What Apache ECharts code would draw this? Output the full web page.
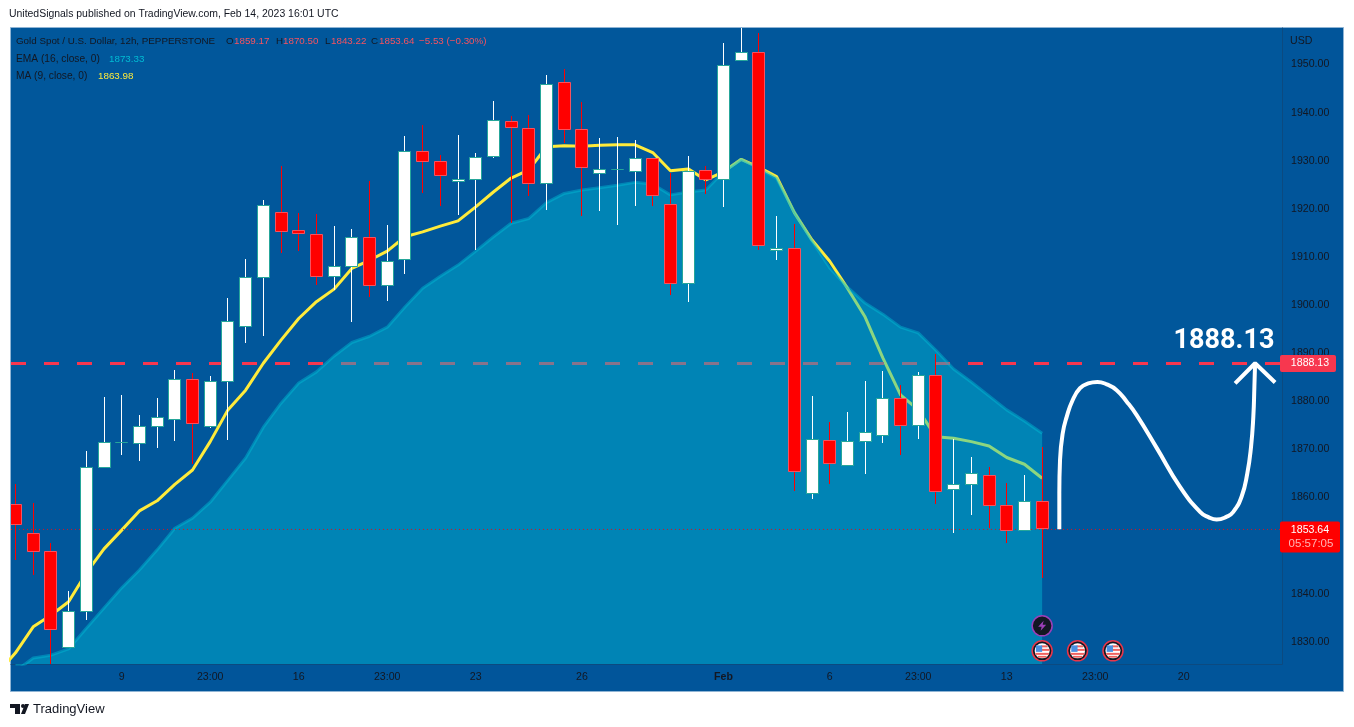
<!DOCTYPE html>
<html>

<head>
  <meta charset="utf-8">
  <script src="https://cdnjs.cloudflare.com/ajax/libs/echarts/6.0.0/echarts.min.js"></script>
  <title>Gold Spot / U.S. Dollar</title>
  <style>
    html, body { margin: 0; padding: 0; background: #fff; }
    #main { width: 1354px; height: 727px; }
  </style>
</head>

<body>
  <div id="main"></div>
  <script>
    // candles, left to right
    var candleOpen = [1858.6, 1852.7, 1848.8, 1829.0, 1836.3, 1866.3, 1871.5, 1871.3, 1874.8, 1876.4,
      1884.6, 1874.8, 1884.1, 1895.6, 1905.8, 1919.3, 1915.5, 1914.7, 1906.0, 1908.2,
      1914.1, 1904.1, 1909.5, 1932.0, 1929.9, 1925.7, 1926.1, 1930.9, 1938.2, 1936.9,
      1925.3, 1946.3, 1936.5, 1927.5, 1928.3, 1927.8, 1930.5, 1921.1, 1904.5, 1928.0,
      1926.3, 1950.9, 1952.5, 1911.4, 1911.8, 1860.9, 1871.9, 1866.7, 1871.7, 1872.9,
      1880.6, 1875.1, 1885.4, 1861.7, 1862.7, 1864.6, 1858.4, 1853.2, 1859.17];
    var candleClose = [1854.4, 1848.8, 1832.6, 1836.3, 1866.3, 1871.5, 1871.5, 1874.8, 1876.7, 1884.6,
      1875.4, 1884.1, 1896.7, 1905.8, 1920.7, 1915.3, 1915.0, 1906.0, 1908.2, 1914.1,
      1904.1, 1909.2, 1932.0, 1929.9, 1927.0, 1926.1, 1930.7, 1938.4, 1937.1, 1925.3,
      1945.9, 1936.5, 1928.7, 1928.2, 1928.3, 1930.5, 1922.8, 1904.5, 1927.8, 1926.3,
      1949.8, 1952.5, 1912.4, 1911.8, 1865.4, 1872.1, 1867.2, 1871.7, 1873.5, 1880.6,
      1875.1, 1885.4, 1861.3, 1862.7, 1865.1, 1858.4, 1853.2, 1859.17, 1853.64];
    var candleHigh = [1862.8, 1858.8, 1850.5, 1840.5, 1869.6, 1880.9, 1881.3, 1877.1, 1880.7, 1886.5,
      1885.8, 1885.2, 1901.5, 1909.6, 1921.8, 1928.9, 1919.1, 1918.9, 1916.4, 1915.8,
      1925.7, 1916.6, 1935.1, 1937.4, 1931.1, 1935.3, 1931.5, 1942.4, 1939.3, 1939.5,
      1947.8, 1949.0, 1942.2, 1934.7, 1934.9, 1934.3, 1930.5, 1927.4, 1931.0, 1929.0,
      1954.4, 1958.5, 1956.5, 1918.5, 1916.8, 1881.1, 1875.7, 1877.7, 1884.2, 1886.3,
      1883.3, 1886.0, 1889.9, 1872.1, 1868.4, 1866.3, 1862.9, 1864.6, 1870.5];
    var candleLow = [1847.1, 1843.8, 1825.0, 1829.0, 1834.5, 1866.3, 1868.8, 1867.6, 1870.3, 1871.8,
      1866.9, 1874.4, 1871.9, 1892.2, 1893.6, 1910.8, 1911.2, 1904.2, 1903.1, 1896.5,
      1901.6, 1900.9, 1906.5, 1923.2, 1920.6, 1918.7, 1911.3, 1930.6, 1917.1, 1922.7,
      1919.7, 1933.6, 1918.6, 1919.5, 1916.7, 1920.6, 1920.6, 1902.1, 1900.7, 1923.2,
      1920.4, 1950.9, 1911.3, 1909.4, 1861.2, 1859.7, 1862.8, 1866.7, 1864.9, 1871.4,
      1868.8, 1872.0, 1858.8, 1852.6, 1856.4, 1853.6, 1850.4, 1853.2, 1843.22];

    var ma9 = [1827.7, 1833.1, 1835.5, 1838.3, 1844.3, 1849.3, 1853.2, 1857.2, 1859.3, 1862.7,
      1865.7, 1871.6, 1878.2, 1882.3, 1887.9, 1892.7, 1897.2, 1900.7, 1903.3, 1907.6,
      1909.3, 1911.2, 1914.2, 1915.2, 1916.4, 1917.5, 1920.4, 1923.5, 1926.4, 1928.1,
      1932.9, 1933.1, 1933.0, 1933.2, 1933.3, 1933.3, 1931.7, 1927.9, 1928.3, 1926.0,
      1927.7, 1930.3, 1928.6, 1926.7, 1919.2, 1913.5, 1909.1, 1903.5, 1897.5, 1889.0,
      1881.3, 1878.2, 1872.6, 1872.3, 1871.6, 1870.7, 1868.3, 1866.9, 1863.98];
    // the MA comes in from one bar off the left edge
    var ma9Lead = 1823.5;
    var ema16 = [1823.9, 1826.6, 1827.2, 1828.5, 1832.8, 1837.0, 1841.2, 1844.9, 1849.1, 1853.6,
      1855.7, 1859.0, 1863.6, 1868.2, 1874.6, 1879.6, 1883.8, 1886.1, 1889.4, 1892.2,
      1893.5, 1895.4, 1899.6, 1903.5, 1906.0, 1908.3, 1911.2, 1914.2, 1917.0, 1918.0,
      1921.3, 1923.2, 1923.9, 1924.4, 1924.9, 1925.5, 1925.1, 1922.9, 1923.5, 1923.9,
      1927.7, 1930.3, 1928.4, 1926.3, 1919.4, 1913.3, 1907.7, 1903.7, 1900.4, 1898.1,
      1895.4, 1894.2, 1890.6, 1886.7, 1884.0, 1881.1, 1878.2, 1875.9, 1873.33];

    // hand drawn forecast curve and its arrow head, in bars and price
    var curveBar = [58.97, 58.97, 59.01, 59.16, 59.39, 59.72, 60.14, 60.6, 61.12, 61.65, 62.21, 62.78, 63.34, 64.47, 65.79,
      66.92, 67.39, 67.86, 68.43, 68.8, 69.27, 69.59, 69.8, 69.93, 69.99, 70.03];
    var curvePrice = [1853.4, 1860.9, 1867.8, 1873.3, 1876.8, 1880.2, 1882.7, 1883.7, 1884.0, 1883.5, 1882.3, 1879.9, 1877.1, 1870.3, 1862.2,
      1857.0, 1855.9, 1855.4, 1856.0, 1857.0, 1860.2, 1865.0, 1870.5, 1876.8, 1883.0, 1887.9];
    var arrowBar = [68.9, 70.03, 71.16];
    var arrowPrice = [1883.7, 1887.9, 1883.9];

    var targetPrice = 1887.85;
    var lastPrice = 1853.35;

    var yTicks = [1830, 1840, 1850, 1860, 1870, 1880, 1890, 1900, 1910, 1920, 1930, 1940, 1950];
    var xTickBars = [6, 11, 16, 21, 26, 32, 40, 46, 51, 56, 61, 66];
    var xTickLabels = ['9', '23:00', '16', '23:00', '23', '26', 'Feb', '6', '23:00', '13', '23:00', '20'];

    var flagBars = [58, 60, 62];
    var flagPrices = [1828.1, 1828.1, 1828.1];
    var boltBars = [58];
    var boltPrices = [1833.3];

    var xMin = -0.254, xMax = 71.55;
    var yMin = 1825.37, yMax = 1957.59;
    var textDark = '#131722';
    var uiFont = '"Liberation Sans", sans-serif';
    var uiSize = 10.6;

    function pairs(xs, ys) {
      return xs.map(function (x, i) { return [x, ys[i]]; });
    }
    function byBar(values) {
      return values.map(function (v, i) { return [i, v]; });
    }

    var candleData = candleOpen.map(function (o, i) {
      return [i, o, candleClose[i], candleLow[i], candleHigh[i]];
    });

    function renderCandle(params, api) {
      var i = api.value(0), o = api.value(1), c = api.value(2), l = api.value(3), h = api.value(4);
      var up = c >= o;
      var top = api.coord([i, Math.max(o, c)]);
      var bot = api.coord([i, Math.min(o, c)]);
      var hi = api.coord([i, h]);
      var lo = api.coord([i, l]);
      var cx = Math.round(top[0] - 0.5);
      var y0 = Math.round(top[1]) + 0.5;
      var y1 = Math.round(bot[1]) + 0.5;
      return {
        type: 'group',
        children: [
          {
            type: 'rect',
            shape: { x: cx, y: Math.round(hi[1]), width: 1, height: Math.round(lo[1] - hi[1]) },
            style: { fill: up ? '#ffffff' : '#ff0000' }
          },
          {
            type: 'rect',
            shape: { x: cx - 5.5, y: y0, width: 12, height: y1 - y0 },
            style: { fill: up ? '#ffffff' : '#ff0000', stroke: up ? '#26a69a' : '#f7525f', lineWidth: 1 }
          }
        ]
      };
    }

    function renderFlag(params, api) {
      var p = api.coord([api.value(0), api.value(1)]);
      var x = p[0], y = p[1];
      return {
        type: 'group',
        children: [
          { type: 'circle', shape: { cx: x, cy: y, r: 10 }, style: { fill: textDark, stroke: '#e8364a', lineWidth: 1.5 } },
          { type: 'circle', shape: { cx: x, cy: y, r: 7.5 }, style: { fill: '#ffffff' } },
          { type: 'rect', shape: { x: x - 1, y: y - 5.5, width: 6.5, height: 2 }, style: { fill: '#f0625f' } },
          { type: 'rect', shape: { x: x - 1, y: y - 2, width: 8.3, height: 2 }, style: { fill: '#f0625f' } },
          { type: 'rect', shape: { x: x - 6.8, y: y + 2, width: 13.6, height: 2 }, style: { fill: '#f0625f' } },
          { type: 'rect', shape: { x: x - 4.5, y: y + 5, width: 9, height: 1.8 }, style: { fill: '#f0625f' } },
          { type: 'rect', shape: { x: x - 6.3, y: y - 5.5, width: 6.3, height: 6.5 }, style: { fill: '#4a90e2' } }
        ]
      };
    }

    function renderBolt(params, api) {
      var p = api.coord([api.value(0), api.value(1)]);
      var x = p[0], y = p[1];
      return {
        type: 'group',
        children: [
          { type: 'circle', shape: { cx: x, cy: y, r: 10 }, style: { fill: textDark, stroke: '#9c3fb8', lineWidth: 1.5 } },
          {
            type: 'polygon',
            shape: { points: [[x + 1.5, y - 5], [x - 4, y + 1], [x - 0.5, y + 1], [x - 1.5, y + 5], [x + 4, y - 1], [x + 0.5, y - 1]] },
            style: { fill: '#9c3fb8' }
          }
        ]
      };
    }

    var chart = echarts.init(document.getElementById('main'));

    chart.setOption({
      animation: false,
      backgroundColor: '#ffffff',
      grid: { left: 11, right: 72, top: 28, bottom: 63, show: true, backgroundColor: '#01579b', borderWidth: 0 },
      xAxis: {
        type: 'value',
        min: xMin,
        max: xMax,
        splitLine: { show: false },
        axisLine: { show: true, onZero: false, lineStyle: { color: '#0c4a80', width: 1 } },
        axisTick: { show: false },
        axisLabel: {
          customValues: xTickBars,
          color: textDark,
          fontFamily: uiFont,
          fontSize: uiSize,
          margin: 8,
          hideOverlap: false,
          formatter: function (v) {
            var label = xTickLabels[xTickBars.indexOf(v)];
            return label === 'Feb' ? '{b|Feb}' : label;
          },
          rich: { b: { fontWeight: 'bold', fontSize: uiSize, fontFamily: uiFont, color: textDark } }
        }
      },
      yAxis: {
        type: 'value',
        position: 'right',
        min: yMin,
        max: yMax,
        splitLine: { show: false },
        axisLine: { show: true, onZero: false, lineStyle: { color: '#0c4a80', width: 1 } },
        axisTick: { show: false },
        axisLabel: {
          customValues: yTicks,
          color: textDark,
          fontFamily: uiFont,
          fontSize: uiSize,
          margin: 9,
          padding: [2, 0, 0, 0],
          formatter: function (v) { return v.toFixed(2); }
        }
      },
      series: [
        {
          name: 'MA 9',
          type: 'line',
          z: 1,
          data: [[-1, ma9Lead]].concat(byBar(ma9)),
          showSymbol: false,
          lineStyle: { color: '#ffeb3b', width: 3 }
        },
        {
          name: 'target',
          type: 'line',
          z: 1,
          data: [[xMin, targetPrice], [xMax, targetPrice]],
          showSymbol: false,
          lineStyle: { color: '#f7374f', width: 3, type: [15, 18] }
        },
        {
          name: 'EMA 16',
          type: 'line',
          z: 2,
          data: byBar(ema16),
          showSymbol: false,
          lineStyle: { color: 'rgba(0, 188, 212, 0.45)', width: 3 },
          areaStyle: { origin: 'start', color: 'rgba(0, 188, 212, 0.45)', opacity: 1 }
        },
        {
          name: 'last',
          type: 'line',
          z: 3,
          data: [[xMin, lastPrice], [xMax, lastPrice]],
          showSymbol: false,
          lineStyle: { color: '#e0101c', width: 1, type: [1, 3] }
        },
        {
          name: 'candles',
          type: 'custom',
          z: 4,
          clip: true,
          data: candleData,
          encode: { x: 0, y: [1, 2, 3, 4] },
          renderItem: renderCandle
        },
        {
          name: 'forecast',
          type: 'line',
          z: 5,
          data: pairs(curveBar, curvePrice),
          showSymbol: false,
          smooth: 0.5,
          lineStyle: { color: '#ffffff', width: 4 }
        },
        {
          name: 'arrow',
          type: 'line',
          z: 5,
          data: pairs(arrowBar, arrowPrice),
          showSymbol: false,
          lineStyle: { color: '#ffffff', width: 4 }
        },
        {
          name: 'bolt',
          type: 'custom',
          z: 6,
          data: pairs(boltBars, boltPrices),
          renderItem: renderBolt
        },
        {
          name: 'flags',
          type: 'custom',
          z: 6,
          data: pairs(flagBars, flagPrices),
          renderItem: renderFlag
        }
      ]
    });

    // chrome and price tags go on after the axes exist
    var targetY = chart.convertToPixel({ yAxisIndex: 0 }, targetPrice);
    var lastY = chart.convertToPixel({ yAxisIndex: 0 }, lastPrice);

    function text(x, y, str, color, size, extra) {
      var style = { x: x, y: y, text: str, fill: color, font: (size || uiSize) + 'px ' + uiFont, verticalAlign: 'middle' };
      for (var k in extra) { style[k] = extra[k]; }
      return { type: 'text', z: 100, style: style };
    }

    var red = '#f7525f';
    var legendSize = 9.8;
    chart.setOption({
      graphic: [
        {
          type: 'rect', z: -1,
          shape: { x: 10.5, y: 27.5, width: 1333, height: 664 },
          style: { fill: '#01559a', stroke: '#8fb4d4', lineWidth: 1 }
        },
        text(9, 14, 'UnitedSignals published on TradingView.com, Feb 14, 2023 16:01 UTC', '#131722', 10.45),
        text(16, 41.5, 'Gold Spot / U.S. Dollar, 12h, PEPPERSTONE', textDark, legendSize),
        text(226, 41.5, 'O', textDark, legendSize),
        text(234, 41.5, '1859.17', red, legendSize),
        text(276, 41.5, 'H', textDark, legendSize),
        text(283, 41.5, '1870.50', red, legendSize),
        text(325, 41.5, 'L', textDark, legendSize),
        text(331, 41.5, '1843.22', red, legendSize),
        text(371, 41.5, 'C', textDark, legendSize),
        text(379, 41.5, '1853.64', red, legendSize),
        text(419, 41.5, '\u22125.53 (\u22120.30%)', red, legendSize),
        text(16, 59, 'EMA (16, close, 0)', textDark, 10.2),
        text(109, 59, '1873.33', '#00bcd4', legendSize),
        text(16, 76, 'MA (9, close, 0)', textDark, 10.2),
        text(98, 76, '1863.98', '#ffeb3b', legendSize),
        text(1290, 41, 'USD', textDark),
        {
          type: 'text', z: 100,
          style: {
            x: 1224, y: targetY - 22, text: '1888.13', fill: '#ffffff', align: 'center', verticalAlign: 'middle',
            font: 'bold 27px Roboto, sans-serif'
          }
        },
        {
          type: 'rect', z: 90,
          shape: { x: 1280, y: targetY - 8.5, width: 56, height: 17, r: 2 },
          style: { fill: '#f7374f' }
        },
        text(1310, targetY, '1888.13', '#ffffff', uiSize, { align: 'center' }),
        {
          type: 'rect', z: 90,
          shape: { x: 1280, y: lastY - 8, width: 60, height: 31, r: 2 },
          style: { fill: '#ff0000' }
        },
        text(1310, lastY + 0.5, '1853.64', '#ffffff', uiSize, { align: 'center' }),
        text(1311, lastY + 14.5, '05:57:05', '#ffb3b3', 11.5, { align: 'center' }),
        // TradingView logo
        {
          type: 'polygon', z: 100,
          shape: { points: [[10, 704], [20, 704], [20, 714], [15, 714], [15, 708], [10, 708]] },
          style: { fill: '#131722' }
        },
        { type: 'circle', z: 100, shape: { cx: 23, cy: 706, r: 2 }, style: { fill: '#131722' } },
        {
          type: 'polygon', z: 100,
          shape: { points: [[25, 714], [29, 704], [25, 704], [21, 714]] },
          style: { fill: '#131722' }
        },
        text(33, 709.5, 'TradingView', '#131722', 13)
      ]
    });
  </script>
</body>

</html>
